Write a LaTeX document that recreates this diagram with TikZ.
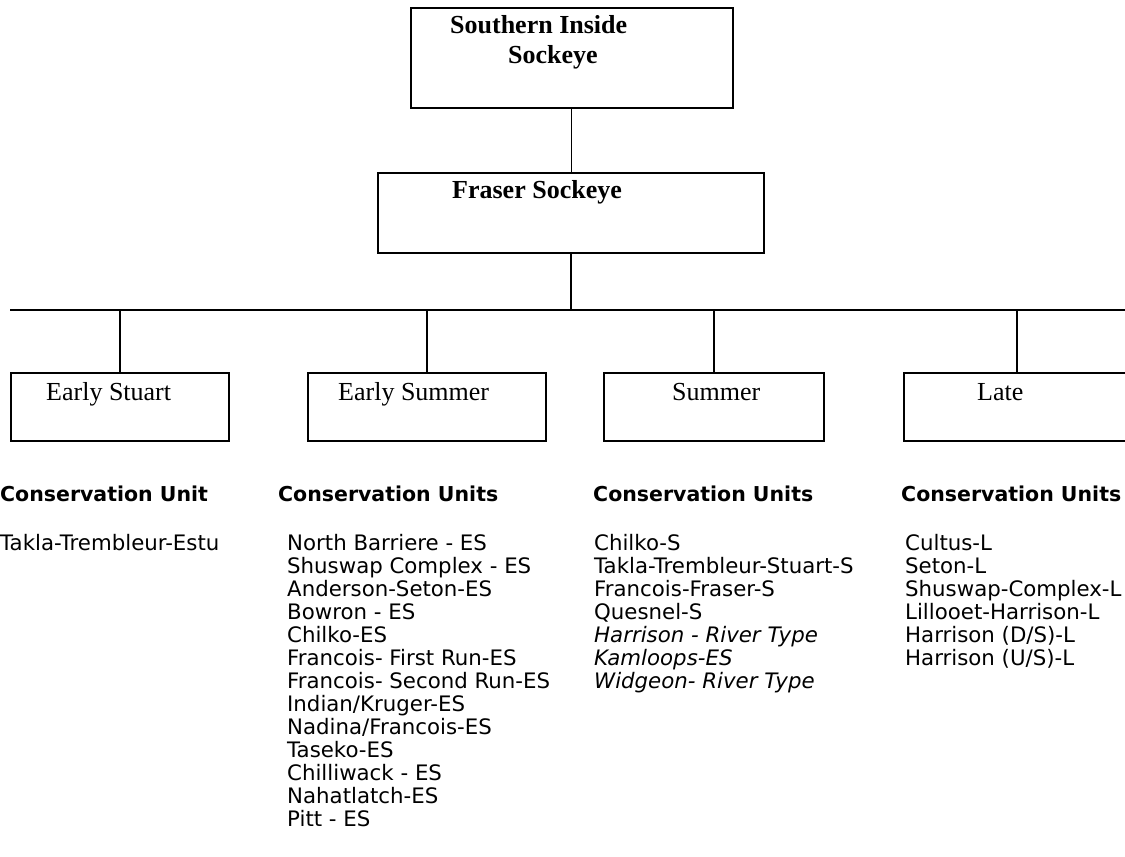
\documentclass[tikz,border=0pt]{standalone}
\usepackage{fontspec}
\setmainfont{Liberation Serif}
\newfontfamily\unitfont{DejaVu Sans}
\usetikzlibrary{positioning}
\tikzstyle{bx} = [rectangle, draw=black, line width=1.6pt, inner sep=0pt, anchor=north west]
\tikzstyle{bxtext} = [anchor=base west, inner sep=0pt, font=\fontsize{26}{30}\selectfont]
\tikzstyle{cuhead} = [anchor=base west, inner sep=0pt, font=\unitfont\bfseries\fontsize{20.5}{23}\selectfont]
\tikzstyle{culist} = [anchor=north west, inner sep=0pt, align=left, font=\unitfont\fontsize{21.3}{23}\selectfont]

\begin{document}
\begin{tikzpicture}[x=1pt, y=-1pt]
	\useasboundingbox (0,0) rectangle (1125,857);
	% boxes
	\node[bx, minimum width=322pt, minimum height=100pt](top) at (410,7){};
	\node[bx, minimum width=386pt, minimum height=80pt](fraser) at (377,172){};
	\node[bx, minimum width=218pt, minimum height=68pt](es) at (10,372){};
	\node[bx, minimum width=238pt, minimum height=68pt](esum) at (307,372){};
	\node[bx, minimum width=220pt, minimum height=68pt](sum) at (603,372){};
	\node[bx, minimum width=226pt, minimum height=68pt](late) at (903,372){};
	\node[bxtext, font=\bfseries\fontsize{26}{30}\selectfont](toptxt1) at (450,33){Southern Inside};
	\node[bxtext, font=\bfseries\fontsize{26}{30}\selectfont](toptxt2) at (508,63){Sockeye};
	\node[bxtext, font=\bfseries\fontsize{26}{30}\selectfont](frasertxt) at (452,198){Fraser Sockeye};
	\node[bxtext](estxt) at (46,400){Early Stuart};
	\node[bxtext](esumtxt) at (338,400){Early Summer};
	\node[bxtext](sumtxt) at (672,400){Summer};
	\node[bxtext](latetxt) at (977,400){Late};
	% connectors
	\coordinate (busl) at (10,310);
	\coordinate (busr) at (1125,310);
	\draw[line width=1pt] (top.south) -- (top.south |- fraser.north);
	\draw[line width=1.5pt] (fraser.south) -- (fraser.south |- busl);
	\draw[line width=1.5pt] (busl) -- (busr);
	\draw[line width=1.5pt] (es.north) -- (es.north |- busl);
	\draw[line width=1.5pt] (esum.north) -- (esum.north |- busl);
	\draw[line width=1.5pt] (sum.north) -- (sum.north |- busl);
	\draw[line width=1.5pt] (late.north) -- (late.north |- busl);
	% conservation units
	\node[cuhead](eshead) at (0,501){Conservation Unit};
	\node[cuhead](esumhead) at (278,501){Conservation Units};
	\node[cuhead](sumhead) at (593,501){Conservation Units};
	\node[cuhead](latehead) at (901,501){Conservation Units};
	\node[culist](eslist) at (0,534){Takla-Trembleur-Estu};
	\node[culist](esumlist) at (287,534){North Barriere - ES\\Shuswap Complex - ES\\Anderson-Seton-ES\\Bowron - ES\\Chilko-ES\\Francois- First Run-ES\\Francois- Second Run-ES\\Indian/Kruger-ES\\Nadina/Francois-ES\\Taseko-ES\\Chilliwack - ES\\Nahatlatch-ES\\Pitt - ES};
	\node[culist](sumlist) at (594,534){Chilko-S\\Takla-Trembleur-Stuart-S\\Francois-Fraser-S\\Quesnel-S\\\textit{Harrison - River Type}\\\textit{Kamloops-ES}\\\textit{Widgeon- River Type}};
	\node[culist](latelist) at (905,534){Cultus-L\\Seton-L\\Shuswap-Complex-L\\Lillooet-Harrison-L\\Harrison (D/S)-L\\Harrison (U/S)-L};
\end{tikzpicture}
\end{document}
